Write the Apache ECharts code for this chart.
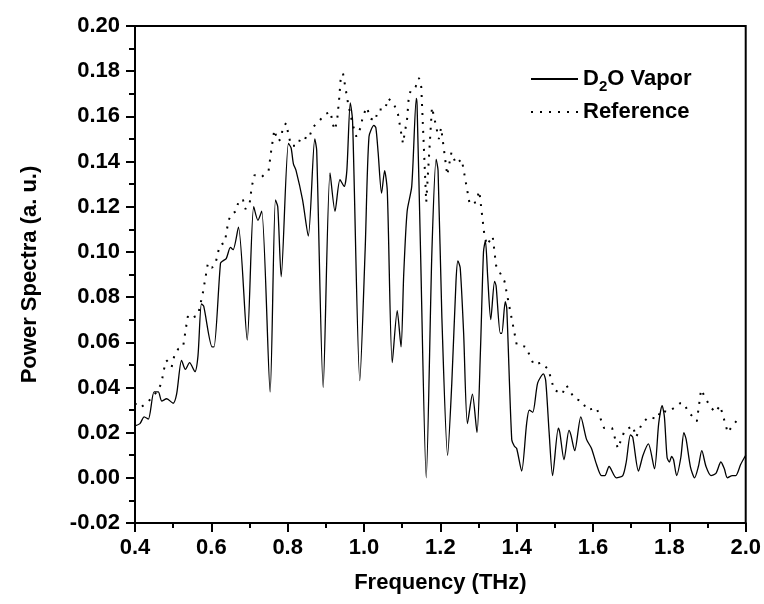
<!DOCTYPE html>
<html>
<head>
<meta charset="utf-8">
<script src="https://cdn.jsdelivr.net/npm/echarts@6/dist/echarts.min.js"></script>
<style>html,body{margin:0;padding:0;background:#fff}#c{width:764px;height:604px}</style>
</head>
<body>
<div id="c"></div>
<script>
var d2oFreq = [0.400,0.413,0.424,0.435,0.450,0.461,0.470,0.483,0.500,0.509,
0.522,0.532,0.543,0.557,0.565,0.574,0.580,0.602,0.607,0.624,
0.630,0.639,0.650,0.657,0.671,0.694,0.711,0.722,0.732,0.754,
0.768,0.774,0.783,0.802,0.809,0.815,0.822,0.839,0.854,0.871,
0.876,0.893,0.911,0.924,0.937,0.948,0.955,0.964,0.970,0.989,
1.003,1.013,1.026,1.031,1.037,1.046,1.054,1.061,1.074,1.087,
1.097,1.104,1.113,1.125,1.137,1.139,1.148,1.163,1.178,1.189,
1.194,1.204,1.219,1.230,1.241,1.246,1.252,1.261,1.271,1.284,
1.296,1.305,1.313,1.318,1.324,1.332,1.342,1.346,1.357,1.361,
1.370,1.374,1.387,1.394,1.400,1.413,1.426,1.433,1.442,1.455,
1.470,1.476,1.485,1.494,1.509,1.513,1.524,1.537,1.542,1.552,
1.568,1.583,1.596,1.609,1.622,1.631,1.642,1.661,1.678,1.687,
1.698,1.704,1.719,1.731,1.745,1.761,1.772,1.781,1.787,1.794,
1.800,1.806,1.811,1.819,1.830,1.838,1.844,1.855,1.866,1.876,
1.885,1.896,1.909,1.922,1.935,1.944,1.952,1.965,1.974,1.987,
2.000];
var d2oPower = [0.023,0.024,0.027,0.026,0.038,0.038,0.034,0.035,0.033,0.037,
0.052,0.048,0.051,0.047,0.054,0.077,0.076,0.058,0.058,0.095,
0.096,0.097,0.102,0.101,0.111,0.061,0.120,0.114,0.118,0.038,
0.123,0.120,0.089,0.148,0.146,0.139,0.136,0.123,0.107,0.150,
0.145,0.040,0.135,0.118,0.132,0.129,0.136,0.166,0.158,0.043,
0.101,0.151,0.156,0.155,0.144,0.126,0.136,0.127,0.051,0.074,
0.058,0.090,0.118,0.129,0.168,0.165,0.101,0.000,0.101,0.141,
0.136,0.071,0.010,0.042,0.087,0.096,0.093,0.064,0.024,0.037,
0.020,0.056,0.100,0.105,0.089,0.070,0.087,0.085,0.064,0.064,
0.078,0.075,0.017,0.014,0.013,0.003,0.024,0.030,0.029,0.042,
0.046,0.043,0.020,0.001,0.022,0.020,0.008,0.021,0.019,0.012,
0.027,0.017,0.013,0.006,0.001,0.001,0.005,0.000,0.001,0.007,
0.019,0.018,0.003,0.010,0.015,0.004,0.024,0.032,0.027,0.009,
0.007,0.0095,0.008,0.001,0.009,0.020,0.017,0.005,0.000,0.005,
0.012,0.005,0.001,0.002,0.007,0.004,0.000,0.001,0.001,0.006,
0.010];
var refFreq = [0.400,0.413,0.431,0.457,0.470,0.474,0.483,0.496,0.503,0.513,
0.526,0.535,0.539,0.552,0.565,0.578,0.587,0.591,0.602,0.611,
0.622,0.635,0.645,0.654,0.665,0.672,0.683,0.689,0.700,0.706,
0.713,0.731,0.750,0.757,0.765,0.774,0.783,0.787,0.796,0.802,
0.809,0.826,0.835,0.855,0.865,0.883,0.898,0.913,0.917,0.924,
0.930,0.935,0.939,0.945,0.950,0.959,0.971,0.980,0.991,0.997,
1.007,1.018,1.029,1.037,1.055,1.063,1.077,1.089,1.102,1.113,
1.117,1.123,1.135,1.144,1.150,1.163,1.178,1.196,1.202,1.218,
1.229,1.241,1.256,1.277,1.293,1.302,1.315,1.322,1.337,1.346,
1.368,1.400,1.424,1.445,1.464,1.483,1.498,1.519,1.530,1.552,
1.570,1.585,1.609,1.629,1.650,1.665,1.683,1.704,1.713,1.728,
1.746,1.768,1.778,1.795,1.813,1.828,1.838,1.850,1.862,1.872,
1.883,1.905,1.920,1.933,1.953,1.965,1.985];
var refPower = [0.033,0.031,0.033,0.038,0.042,0.047,0.052,0.049,0.054,0.057,
0.058,0.068,0.072,0.071,0.072,0.082,0.091,0.095,0.093,0.095,
0.103,0.104,0.114,0.117,0.118,0.123,0.123,0.119,0.121,0.129,
0.134,0.133,0.136,0.145,0.154,0.149,0.150,0.155,0.157,0.152,
0.147,0.147,0.151,0.150,0.155,0.158,0.161,0.162,0.157,0.154,
0.159,0.168,0.177,0.179,0.174,0.165,0.156,0.151,0.155,0.160,
0.164,0.159,0.158,0.163,0.163,0.168,0.166,0.161,0.148,0.159,
0.168,0.172,0.173,0.177,0.173,0.122,0.164,0.150,0.155,0.134,
0.144,0.139,0.141,0.121,0.122,0.127,0.108,0.103,0.107,0.094,
0.087,0.059,0.058,0.050,0.051,0.048,0.039,0.037,0.041,0.035,
0.034,0.030,0.031,0.022,0.022,0.013,0.021,0.023,0.018,0.024,
0.027,0.026,0.030,0.029,0.031,0.033,0.033,0.029,0.027,0.025,
0.039,0.032,0.029,0.032,0.020,0.023,0.027];
var xTicks = {min: 0.4, max: 2.0, step: 0.2};
var yTicks = {min: -0.02, max: 0.20, step: 0.02};
var seriesNames = ['D2O Vapor', 'Reference'];
var axisTitles = {x: 'Frequency (THz)', y: 'Power Spectra (a. u.)'};

function pairs(xs, ys) { return xs.map(function (x, i) { return [x, ys[i]]; }); }

var FONT = '"Liberation Sans", Arial, Helvetica, sans-serif';
var chart = echarts.init(document.getElementById('c'), null, {renderer: 'canvas'});
chart.setOption({
  backgroundColor: '#ffffff',
  animation: false,
  grid: {left: 135, right: 16, top: 26, bottom: 81, show: true, borderColor: '#000', borderWidth: 2, backgroundColor: 'transparent'},
  legend: {
    orient: 'vertical', left: 530, top: 68, padding: 0, itemWidth: 47, itemHeight: 14, itemGap: 7, itemTextGap: 3,
    data: seriesNames,
    itemStyle: {opacity: 0},
    formatter: function (n) { return n === 'D2O Vapor' ? '{b|D}{s|2}{b|O Vapor}' : '{r|' + n + '}'; },
    textStyle: {
      fontFamily: FONT, fontWeight: 'bold', fontSize: 22, color: '#000',
      rich: {
        b: {fontFamily: FONT, fontWeight: 'bold', fontSize: 22, lineHeight: 22, color: '#000', verticalAlign: 'top'},
        s: {fontFamily: FONT, fontWeight: 'bold', fontSize: 15, lineHeight: 15, color: '#000', verticalAlign: 'top', padding: [11, 0, 0, 0]},
        r: {fontFamily: FONT, fontWeight: 'bold', fontSize: 22, lineHeight: 22, color: '#000'}
      }
    }
  },
  xAxis: {
    type: 'value', min: xTicks.min, max: xTicks.max, interval: xTicks.step,
    name: axisTitles.x, nameLocation: 'middle', nameGap: 49,
    nameTextStyle: {fontFamily: FONT, fontWeight: 'bold', fontSize: 22, color: '#000'},
    axisLine: {show: true, onZero: false, lineStyle: {color: '#000', width: 2}},
    axisTick: {show: true, length: 9, lineStyle: {color: '#000', width: 2}},
    minorTick: {show: true, splitNumber: 2, length: 5, lineStyle: {color: '#000', width: 2}},
    splitLine: {show: false},
    axisLabel: {margin: 14, fontFamily: FONT, fontWeight: 'bold', fontSize: 22, color: '#000',
      formatter: function (v) { return v.toFixed(1); }}
  },
  yAxis: {
    type: 'value', min: yTicks.min, max: yTicks.max, interval: yTicks.step,
    name: axisTitles.y, nameLocation: 'middle', nameGap: 94,
    nameTextStyle: {fontFamily: FONT, fontWeight: 'bold', fontSize: 22, color: '#000'},
    axisLine: {show: true, onZero: false, lineStyle: {color: '#000', width: 2}},
    axisTick: {show: true, length: 9, lineStyle: {color: '#000', width: 2}},
    minorTick: {show: true, splitNumber: 2, length: 6, lineStyle: {color: '#000', width: 2}},
    splitLine: {show: false},
    axisLabel: {margin: 15, fontFamily: FONT, fontWeight: 'bold', fontSize: 22, color: '#000',
      formatter: function (v) { return v.toFixed(2); }}
  },
  series: [
    {name: seriesNames[0], type: 'line', data: pairs(d2oFreq, d2oPower), symbol: 'none', smooth: 0.25,
      lineStyle: {color: '#000', width: 1.3}, itemStyle: {color: '#000'}},
    {name: seriesNames[1], type: 'line', data: pairs(refFreq, refPower), symbol: 'none',
      lineStyle: {color: '#000', width: 2, type: [2, 7]}, itemStyle: {color: '#000'}}
  ]
});
</script>
</body>
</html>
